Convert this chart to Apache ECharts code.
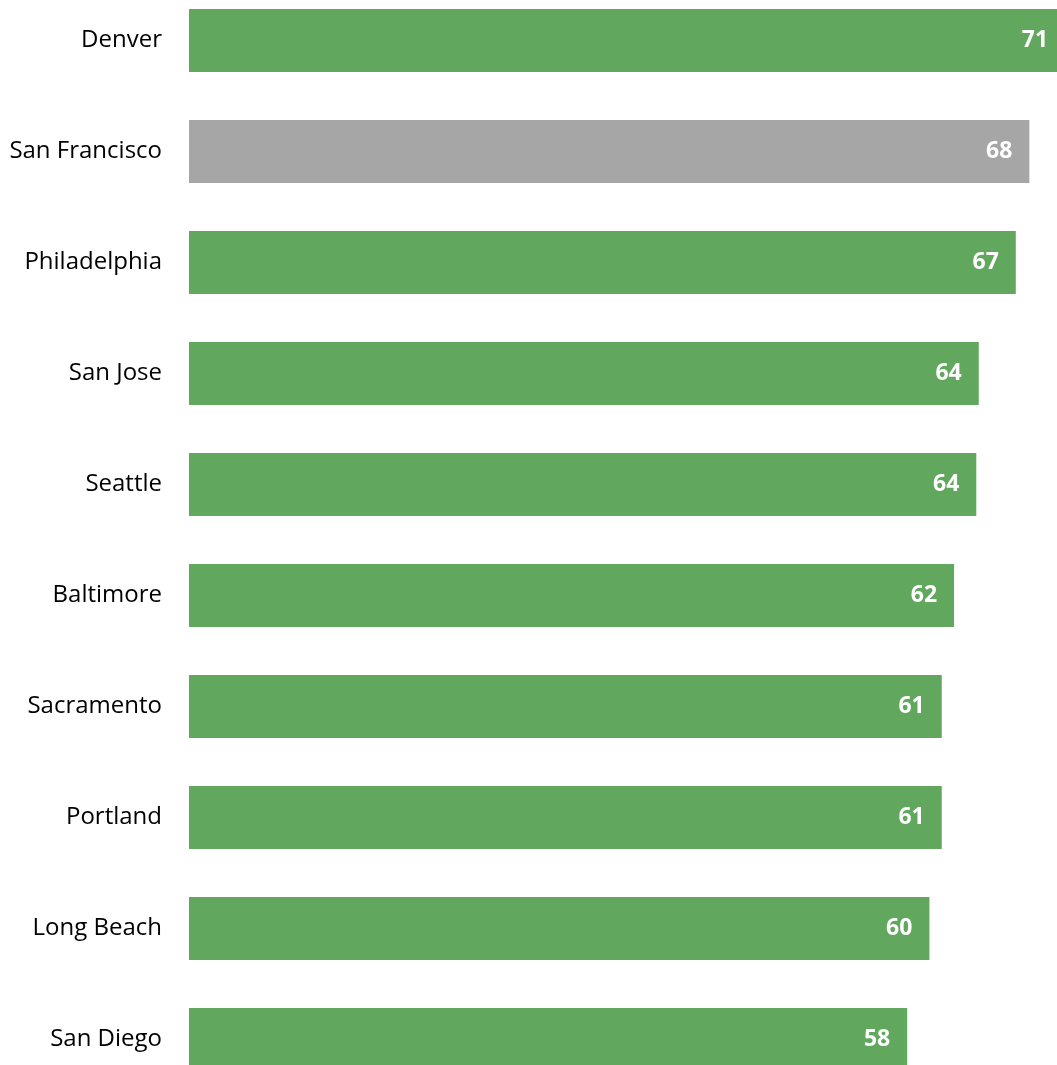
<!DOCTYPE html>
<html>
<head>
<meta charset="utf-8">
<script src="https://cdn.jsdelivr.net/npm/echarts@6/dist/echarts.min.js"></script>
<style>
html, body { margin: 0; padding: 0; background: #fff; overflow: hidden; }
/* chart area runs a bit past the page top and bottom, as in the original */
#chart { position: absolute; left: 0; top: -15px; width: 1057px; height: 1110px; }
</style>
</head>
<body>
<div id="chart"></div>
<script>
// cities top to bottom
const cities = ['Denver', 'San Francisco', 'Philadelphia', 'San Jose', 'Seattle',
    'Baltimore', 'Sacramento', 'Portland', 'Long Beach', 'San Diego']
const scores = [71, 68.1, 67, 64, 63.8, 62, 61, 61, 60, 58.2]
const highlight = 'San Francisco'

const green = '#62a75e'
const gray = '#a6a6a6'

const chart = echarts.init(document.getElementById('chart'))

const option = {
    animation: false,
    grid: {
        left: 189,
        right: 0,
        top: 0,
        bottom: 0
    },
    xAxis: {
        type: 'value',
        min: 0,
        max: 70.34,
        show: false
    },
    yAxis: {
        type: 'category',
        inverse: true,
        data: cities,
        axisLine: {show: false},
        axisTick: {show: false},
        axisLabel: {
            margin: 27,
            fontSize: 24,
            color: '#000',
            fontFamily: 'Open Sans'
        }
    },
    series: [
        {
            type: 'bar',
            barWidth: 63,
            clip: false,
            data: scores.map((v, i) => ({
                value: v,
                itemStyle: {color: cities[i] == highlight ? gray : green}
            })),
            label: {
                show: true,
                position: 'insideRight',
                distance: 17,
                color: '#fff',
                fontWeight: 'bold',
                fontSize: 23,
                fontFamily: 'Open Sans',
                formatter: p => Math.round(p.value)
            }
        }
    ]
}

chart.setOption(option)
</script>
</body>
</html>
